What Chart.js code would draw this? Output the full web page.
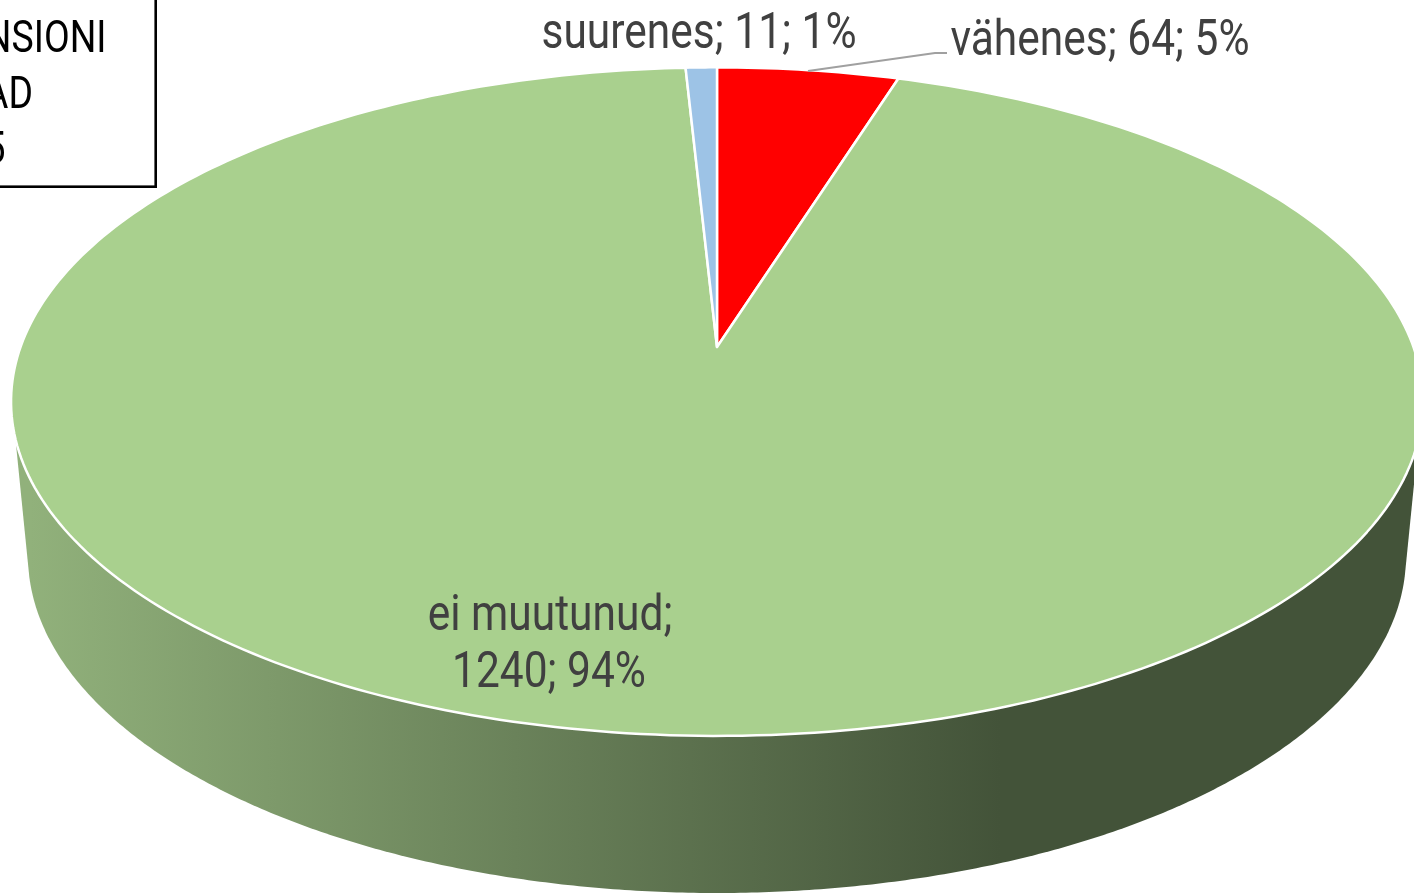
<!DOCTYPE html>
<html lang="et">
<head>
<meta charset="utf-8">
<title>Pensioni muutus</title>
<style>
    html, body { margin: 0; padding: 0; background: #fff; overflow: hidden; }
    #wrap { position: relative; width: 1414px; height: 894px; }
</style>
<script src="https://cdn.jsdelivr.net/npm/chart.js@4"></script>
</head>
<body>
<div id="wrap"><canvas id="pie" width="1414" height="894"></canvas></div>
<script>
// ============================================================================
// DATA
// ============================================================================
const categories = ['vähenes', 'ei muutunud', 'suurenes'];
const counts = [64, 1240, 11];
const percents = [5, 94, 1];
const sliceColors = ['#ff0000', '#a9d08e', '#9dc3e6'];
const boxLines = ['NSIONI', 'AD', '5'];

// ============================================================================
// PERSPECTIVE OF THE PIE TOP AND THE SIDE WALL
// ============================================================================
const STRETCH_X = 697 / 325.6;
const TILT = -0.1634;
const FLOOR = { cx: 717, cy: 556, rx: 689, ry: 337, from: 0.06 };
const WALL_FROM = 0.2735;
const STEPS = 360;

const LABEL_FONT = '50px Roboto';
const LABEL_SQUEEZE = 0.85;
const BOX_FONT = '44px Roboto';
const BOX_SQUEEZE = 0.85;

function project(el, angle) {
    const nx = Math.cos(angle);
    const ny = Math.sin(angle);
    const w = 1 + TILT * ny;
    return {
        x: el.x + el.outerRadius * STRETCH_X * nx / w,
        y: el.y + el.outerRadius * ny / w
    };
}

function drawWall(ctx, el) {
    const gradient = ctx.createLinearGradient(30, 0, 1000, 0);
    gradient.addColorStop(0, '#91b17b');
    gradient.addColorStop(1, '#435339');

    ctx.beginPath();
    const start = project(el, WALL_FROM);
    ctx.moveTo(start.x, start.y);
    for (let i = 0; i <= STEPS; i++) {
        const t = FLOOR.from + (Math.PI - 2 * FLOOR.from) * i / STEPS;
        ctx.lineTo(FLOOR.cx + FLOOR.rx * Math.cos(t), FLOOR.cy + FLOOR.ry * Math.sin(t));
    }
    const end = project(el, Math.PI - WALL_FROM);
    ctx.lineTo(end.x, end.y);
    ctx.closePath();
    ctx.fillStyle = gradient;
    ctx.fill();
}

function drawSlice(ctx, el) {
    const span = el.endAngle - el.startAngle;
    const steps = Math.max(8, Math.ceil(span / (2 * Math.PI) * STEPS));
    ctx.beginPath();
    ctx.moveTo(el.x, el.y);
    for (let i = 0; i <= steps; i++) {
        const p = project(el, el.startAngle + span * i / steps);
        ctx.lineTo(p.x, p.y);
    }
    ctx.closePath();
    ctx.fillStyle = el.options.backgroundColor;
    ctx.fill();
    ctx.strokeStyle = el.options.borderColor;
    ctx.lineWidth = el.options.borderWidth;
    ctx.lineJoin = 'round';
    ctx.stroke();
}

function squeezedText(ctx, text, x, baseline, align, squeeze) {
    ctx.save();
    ctx.translate(x, baseline);
    ctx.scale(squeeze, 1);
    ctx.textAlign = align;
    ctx.textBaseline = 'alphabetic';
    ctx.fillText(text, 0, 0);
    ctx.restore();
}

// ============================================================================
// PLUGIN: 3D PIE, LABELS, TEXT BOX
// ============================================================================
const pie3d = {
    id: 'pie3d',
    beforeDatasetDraw(chart) {
        const ctx = chart.ctx;
        const slices = chart.getDatasetMeta(0).data;
        ctx.save();
        drawWall(ctx, slices[0]);
        slices.forEach(el => drawSlice(ctx, el));
        ctx.restore();
        return false;
    },
    afterDraw(chart) {
        const ctx = chart.ctx;
        ctx.save();

        // leader line of the red slice
        ctx.strokeStyle = '#a0a0a0';
        ctx.lineWidth = 2;
        ctx.beginPath();
        ctx.moveTo(808, 71);
        ctx.lineTo(935, 53);
        ctx.lineTo(947, 53);
        ctx.stroke();

        // slice labels
        ctx.font = LABEL_FONT;
        ctx.fillStyle = '#404040';
        squeezedText(ctx, `${categories[0]}; ${counts[0]}; ${percents[0]}%`, 1100, 55, 'center', LABEL_SQUEEZE);
        squeezedText(ctx, `${categories[2]}; ${counts[2]}; ${percents[2]}%`, 699, 48, 'center', LABEL_SQUEEZE);
        squeezedText(ctx, `${categories[1]};`, 550, 630, 'center', LABEL_SQUEEZE);
        squeezedText(ctx, `${counts[1]}; ${percents[1]}%`, 549, 687, 'center', LABEL_SQUEEZE);

        // text box cut off by the left page edge
        ctx.fillStyle = '#ffffff';
        ctx.fillRect(-4, -4, 160, 190);
        ctx.strokeStyle = '#000000';
        ctx.lineWidth = 2.6;
        ctx.strokeRect(-4, -2, 159.7, 188.7);
        ctx.font = BOX_FONT;
        ctx.fillStyle = '#000000';
        squeezedText(ctx, boxLines[0], 106.5, 52, 'right', BOX_SQUEEZE);
        squeezedText(ctx, boxLines[1], 33, 108, 'right', BOX_SQUEEZE);
        squeezedText(ctx, boxLines[2], 5.5, 163, 'right', BOX_SQUEEZE);

        ctx.restore();
    }
};

// ============================================================================
// CHART
// ============================================================================
new Chart(document.getElementById('pie'), {
    type: 'pie',
    data: {
        labels: categories,
        datasets: [{
            data: counts,
            backgroundColor: sliceColors,
            borderColor: '#ffffff',
            borderWidth: 2.5
        }]
    },
    options: {
        responsive: false,
        animation: false,
        layout: { padding: { left: 20, right: 0, top: 20.4, bottom: 220.4 } },
        plugins: {
            legend: { display: false },
            tooltip: { enabled: false }
        }
    },
    plugins: [pie3d]
});
</script>
</body>
</html>
